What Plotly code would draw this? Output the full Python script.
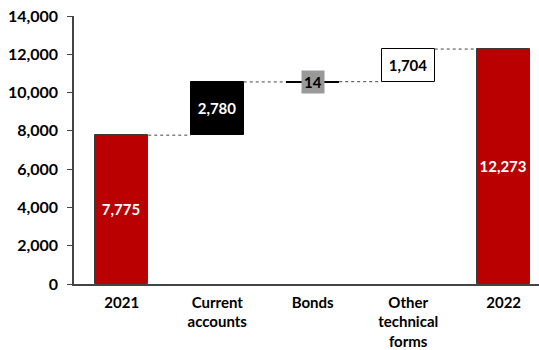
import plotly.graph_objects as go

# Waterfall of amounts: 2021 total, three contributions, 2022 total
categories = ["2021", "Current<br>accounts", "Bonds", "Other<br>technical<br>forms", "2022"]
values = [7775, 2780, 14, 1704, 12273]
kinds = ["total", "delta", "delta", "delta", "total"]
y_ticks = [0, 2000, 4000, 6000, 8000, 10000, 12000, 14000]

fill_colors = ["#BA0000", "#000000", "#000000", "#FFFFFF", "#BA0000"]
edge_colors = ["#3a3a3a", "#000000", "#000000", "#000000", "#3a3a3a"]
edge_widths = [1, 1, 2, 1, 1]
text_colors = ["white", "white", "black", "black", "white"]

FONT = "Lato"
BAR_W = 0.555

# cumulative bases for the floating bars
bases, heights, running = [], [], 0
for v, k in zip(values, kinds):
    if k == "total":
        bases.append(0)
        heights.append(v)
        running = v
    else:
        bases.append(running)
        heights.append(v)
        running += v

x_idx = list(range(len(categories)))
labels = [f"{v:,}" for v in values]
bar_text = [t if v >= 500 else "" for t, v in zip(labels, values)]

fig = go.Figure()

# dotted connectors between consecutive bar tops
for i in range(len(values) - 1):
    level = bases[i] + heights[i]
    fig.add_trace(go.Scatter(
        x=[i + BAR_W / 2, i + 1 - BAR_W / 2], y=[level, level],
        mode="lines", line=dict(color="#444444", width=1, dash="dot"),
        hoverinfo="skip", showlegend=False,
    ))

fig.add_trace(go.Bar(
    x=x_idx, y=heights, base=bases, width=BAR_W,
    marker=dict(color=fill_colors, line=dict(color=edge_colors, width=edge_widths)),
    text=bar_text, textposition="inside", insidetextanchor="middle",
    textangle=0, constraintext="none",
    textfont=dict(family=FONT, size=15, color=text_colors, weight="bold"),
    showlegend=False, hoverinfo="skip",
))

# small contributions get a boxed label centred on the bar
for i, v in enumerate(values):
    if v < 500:
        fig.add_annotation(
            x=i, y=bases[i] + heights[i] / 2, text=labels[i], showarrow=False,
            bgcolor="#999999", borderpad=2,
            font=dict(family=FONT, size=15, color="black", weight="bold"),
        )

fig.update_layout(
    width=539, height=350,
    margin=dict(l=74, r=0, t=16, b=64),
    paper_bgcolor="white", plot_bgcolor="white",
    bargap=0,
    font=dict(family=FONT, size=15, color="black"),
)
fig.update_xaxes(
    range=[-0.5, 4.37], tickmode="array", tickvals=x_idx, ticktext=categories,
    showline=True, linecolor="#444444", linewidth=1.5, ticks="", showgrid=False,
    zeroline=False, ticklabelstandoff=4,
    tickfont=dict(family=FONT, size=15, color="black", weight="bold"),
)
fig.update_yaxes(
    range=[0, 14000], tickmode="array", tickvals=y_ticks,
    ticktext=[f"{t:,}" for t in y_ticks],
    showline=True, linecolor="#444444", linewidth=1.5, ticks="outside",
    ticklen=5, tickcolor="#444444", showgrid=False, zeroline=False,
    ticklabelstandoff=6,
    tickfont=dict(family=FONT, size=16, color="black", weight="bold"),
)

fig.write_html("out.html")
